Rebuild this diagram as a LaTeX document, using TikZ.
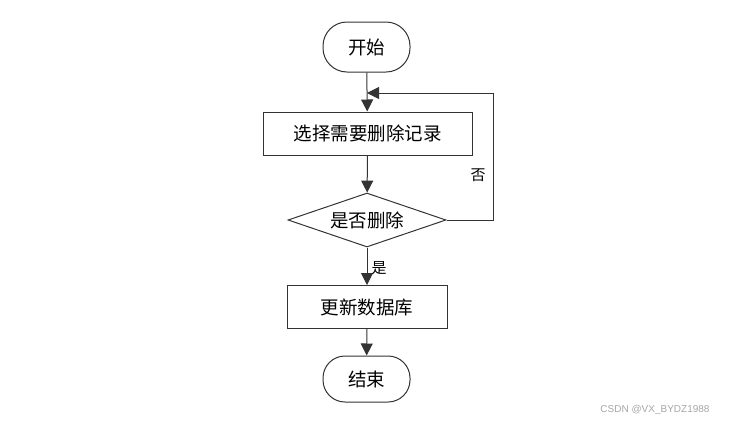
\documentclass[tikz,border=0pt]{standalone}
\usepackage{fontspec}
\setmainfont{Liberation Sans}
\newfontfamily\cjk{Noto Sans CJK SC}
\usetikzlibrary{arrows.meta,shapes.geometric,calc}
\begin{document}
\begin{tikzpicture}[x=1pt,y=-1pt,
  every node/.style={font=\cjk\fontsize{18.5}{20}\selectfont},
  line/.style={draw=black!80,line width=1pt},
  term/.style={line,rounded corners=24pt,minimum width=87pt,minimum height=50pt,inner sep=0pt},
  procbox/.style={line,minimum height=43pt,inner sep=0pt},
  decide/.style={line,diamond,aspect=2.93,minimum width=158pt,minimum height=54pt,inner sep=0pt},
  arr/.style={line,-{Triangle[length=12pt,width=12pt]}},
  lbl/.style={font=\cjk\fontsize{15}{17}\selectfont}]
\useasboundingbox (0,0) rectangle (745,424);
\node[term] (start) at (366.5,47) {开始};
\node[procbox,minimum width=209pt] (sel) at (367.5,133.5) {选择需要删除记录};
\node[decide] (dec) at (367,220) {是否删除};
\node[procbox,minimum width=160pt] (upd) at (367,307) {更新数据库};
\node[term,minimum height=46pt,rounded corners=22pt] (end) at (366.5,379) {结束};
\coordinate (c1) at (493,220);
\coordinate (c2) at (493,93);
\coordinate (c3) at (367,93);
\draw[arr] (start) -- (sel);
\draw[arr] (sel) -- (dec);
\draw[arr] (dec) -- (upd);
\draw[arr] (upd) -- (end);
\draw[arr] (dec.east) -- (c1) -- (c2) -- (c3);
\node[lbl] (no) at (478,175) {否};
\node[lbl] (yes) at (379,268) {是};
\node[font=\fontsize{10}{12}\selectfont,text=black!35] (wm) at (655,410) {CSDN @VX\_BYDZ1988};
\end{tikzpicture}
\end{document}
